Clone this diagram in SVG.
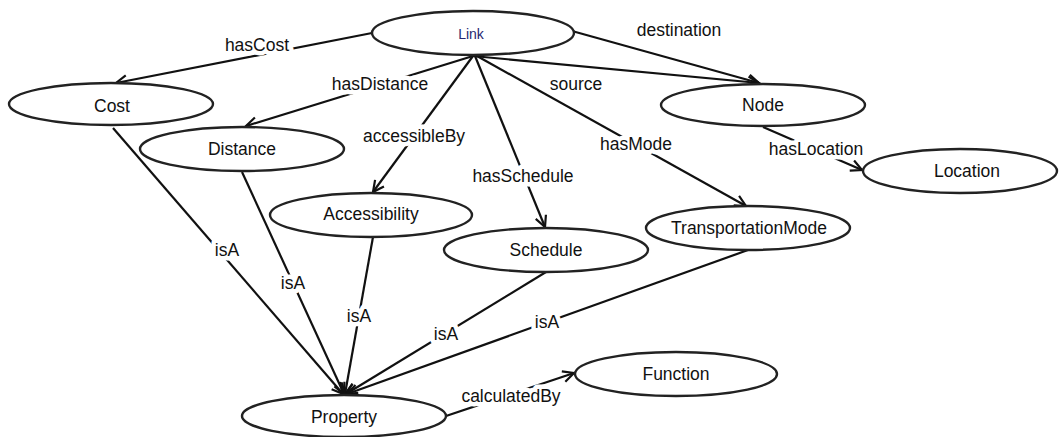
<svg xmlns="http://www.w3.org/2000/svg" width="1059" height="437" viewBox="0 0 1059 437">
<defs>
<marker id="arr" markerUnits="userSpaceOnUse" markerWidth="14" markerHeight="14" viewBox="0 0 14 14" refX="12" refY="7" orient="auto">
<path d="M1,1.5 L12,7 L1,12.5" fill="none" stroke="#111" stroke-width="2.2" stroke-linejoin="miter"/>
</marker>
</defs>
<style>
.node ellipse{fill:#fff;stroke:#222;stroke-width:2.4}
.node text{font-family:"Liberation Sans",Arial,sans-serif;font-size:17.5px;fill:#111;text-anchor:middle}
.edge line{stroke:#111;stroke-width:2.2;marker-end:url(#arr)}
.lbl{font-family:"Liberation Sans",Arial,sans-serif;font-size:17.5px;fill:#111;text-anchor:middle;stroke:#fff;stroke-width:9;stroke-linejoin:round;paint-order:stroke}
</style>
<rect width="1059" height="437" fill="#fff"/>
<g id="connectors" class="edge">
<line x1="372" y1="33" x2="116" y2="83"/>
<line x1="572" y1="31" x2="759" y2="83"/>
<line x1="473" y1="56" x2="759" y2="83"/>
<line x1="473" y1="56" x2="246" y2="126"/>
<line x1="473" y1="56" x2="373" y2="192"/>
<line x1="475" y1="56" x2="545" y2="227"/>
<line x1="477" y1="56" x2="746" y2="206"/>
<line x1="763" y1="127" x2="862" y2="170"/>
<line x1="113" y1="128" x2="343" y2="394"/>
<line x1="242" y1="172" x2="344" y2="394"/>
<line x1="373" y1="237" x2="345" y2="394"/>
<line x1="546" y1="272" x2="346" y2="394"/>
<line x1="748" y1="250" x2="347" y2="394"/>
<line x1="446" y1="416" x2="574" y2="373"/>
<text class="lbl" x="257" y="51">hasCost</text>
<text class="lbl" x="679" y="36">destination</text>
<text class="lbl" x="380" y="90">hasDistance</text>
<text class="lbl" x="576" y="90">source</text>
<text class="lbl" x="414" y="142">accessibleBy</text>
<text class="lbl" x="636" y="150">hasMode</text>
<text class="lbl" x="816" y="155">hasLocation</text>
<text class="lbl" x="523" y="182">hasSchedule</text>
<text class="lbl" x="227" y="256">isA</text>
<text class="lbl" x="293" y="289">isA</text>
<text class="lbl" x="359" y="322">isA</text>
<text class="lbl" x="446" y="340">isA</text>
<text class="lbl" x="547" y="328">isA</text>
<text class="lbl" x="511" y="402">calculatedBy</text>
</g>
<g id="Link" class="node"><ellipse cx="473" cy="33" rx="101" ry="22"/><text x="471" y="39" style="font-size:14px;fill:#262670">Link</text></g>
<g id="Cost" class="node"><ellipse cx="111" cy="104" rx="102" ry="21"/><text x="112" y="112">Cost</text></g>
<g id="Node" class="node"><ellipse cx="763" cy="105" rx="102" ry="21"/><text x="763" y="111">Node</text></g>
<g id="Distance" class="node"><ellipse cx="242" cy="149" rx="102" ry="22"/><text x="242" y="155">Distance</text></g>
<g id="Location" class="node"><ellipse cx="960" cy="171" rx="97" ry="22"/><text x="967" y="177">Location</text></g>
<g id="Accessibility" class="node"><ellipse cx="371" cy="215" rx="101" ry="22"/><text x="371" y="220">Accessibility</text></g>
<g id="TransportationMode" class="node"><ellipse cx="748" cy="228" rx="102" ry="22"/><text x="749" y="234">TransportationMode</text></g>
<g id="Schedule" class="node"><ellipse cx="546" cy="250" rx="102" ry="22"/><text x="546" y="256">Schedule</text></g>
<g id="Function" class="node"><ellipse cx="676" cy="374" rx="101" ry="22"/><text x="676" y="380">Function</text></g>
<g id="Property" class="node"><ellipse cx="344" cy="416" rx="102" ry="21"/><text x="344" y="423">Property</text></g>
</svg>
